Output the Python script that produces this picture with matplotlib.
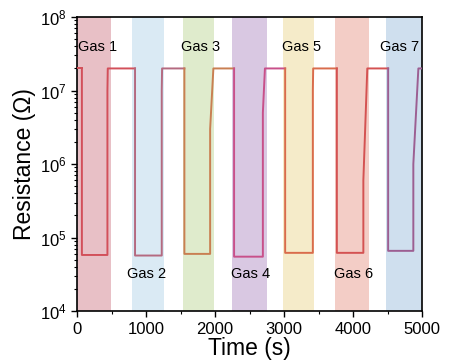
import matplotlib
matplotlib.use("Agg")
import matplotlib.pyplot as plt
import numpy as np
from matplotlib.ticker import LogLocator, MultipleLocator, NullFormatter

plt.rcParams['font.family'] = ['Liberation Sans', 'DejaVu Sans']
plt.rcParams['mathtext.fontset'] = 'custom'
plt.rcParams['mathtext.rm'] = 'Liberation Sans'
plt.rcParams['mathtext.it'] = 'Liberation Sans'

# ---- data ----
gases = ["Gas 1", "Gas 2", "Gas 3", "Gas 4", "Gas 5", "Gas 6", "Gas 7"]
band_start = [0, 800, 1530, 2250, 2980, 3730, 4480]
band_end = [495, 1265, 1990, 2750, 3440, 4235, 5000]
band_colors = ["#e8c0c6", "#daeaf4", "#dfebcc", "#d9c8e2", "#f5ebc9", "#f3cdc6", "#cfdfee"]
line_colors = ["#d2505a", "#b46a80", "#c97f52", "#c8508a", "#d96c4c", "#d45252", "#9c5f92"]

high_level = 2.0e7
drop_time = [70, 840, 1555, 2275, 3015, 3764, 4507]
low_level = [5.8e4, 5.7e4, 6.0e4, 5.5e4, 6.2e4, 6.2e4, 6.6e4]
rise_start = [440, 1227, 1928, 2692, 3416, 4148, 4872]
rise_mid = [1.0e7, 1.0e7, 3.0e6, 5.0e6, 1.0e7, 6.0e5, 1.0e6]
rise_end = [445, 1232, 1975, 2722, 3421, 4205, 4945]
end_time = 5000

label_x = [300, 1014, 1783, 2507, 3246, 4000, 4667]
label_y = [3.9e7, 3.2e4, 3.9e7, 3.2e4, 3.9e7, 3.2e4, 3.9e7]

fig = plt.figure(figsize=(4.67, 3.63), dpi=100)
ax = fig.add_axes([0.165, 0.143, 0.739, 0.810])

for s, e, c in zip(band_start, band_end, band_colors):
    ax.axvspan(s, e, color=c, lw=0, zorder=0)

# initial high segment
ax.plot([0, drop_time[0]], [high_level, high_level], color=line_colors[0], lw=1.4, zorder=3)
for i in range(len(gases)):
    nxt = drop_time[i + 1] if i + 1 < len(drop_time) else end_time
    t = [drop_time[i], drop_time[i], rise_start[i], rise_start[i], rise_end[i], nxt]
    r = [high_level, low_level[i], low_level[i], rise_mid[i], high_level, high_level]
    ax.plot(t, r, color=line_colors[i], lw=1.4, zorder=3)

for g, x, y in zip(gases, label_x, label_y):
    ax.text(x, y, g, ha='center', va='center', fontsize=10.5, color='black', zorder=4)

ax.set_yscale('log')
ax.set_xlim(0, 5000)
ax.set_ylim(1e4, 1e8)
ax.xaxis.set_major_locator(MultipleLocator(1000))
ax.xaxis.set_minor_locator(MultipleLocator(500))
ax.yaxis.set_major_locator(LogLocator(base=10, numticks=10))
ax.yaxis.set_minor_locator(LogLocator(base=10, subs=np.arange(2, 10), numticks=10))
ax.yaxis.set_minor_formatter(NullFormatter())
ax.tick_params(axis='both', which='major', direction='out', length=4, width=1.0,
               labelsize=12, top=False, right=False)
ax.tick_params(axis='both', which='minor', direction='out', length=2.5, width=0.8,
               top=False, right=False)
for sp in ax.spines.values():
    sp.set_linewidth(1.2)

ax.set_xlabel("Time (s)", fontsize=16.5, labelpad=0)
ax.set_ylabel("Resistance (Ω)", fontsize=16.5, labelpad=3)

fig.savefig("out.png", dpi=100)
